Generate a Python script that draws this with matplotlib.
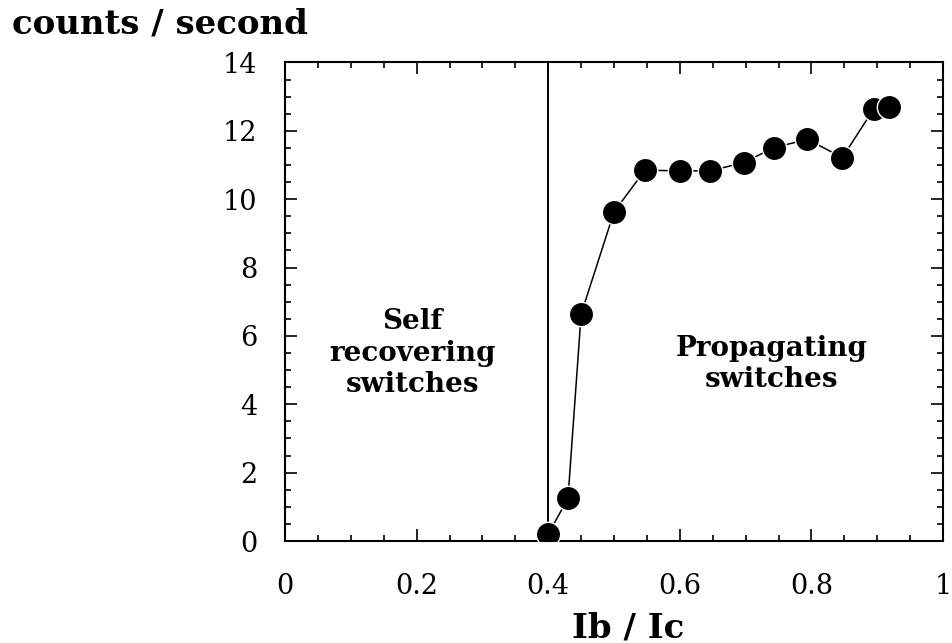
import matplotlib
matplotlib.use("Agg")
import matplotlib.pyplot as plt
from matplotlib.ticker import MultipleLocator

ib_ic = [0.40, 0.43, 0.45, 0.50, 0.547, 0.60, 0.646, 0.697, 0.743, 0.794, 0.847, 0.895, 0.918]
counts = [0.2, 1.25, 6.64, 9.63, 10.85, 10.83, 10.83, 11.07, 11.51, 11.75, 11.22, 12.65, 12.70]
boundary_x = 0.4

plt.rcParams['font.family'] = ['DejaVu Serif']

fig = plt.figure(figsize=(9.52, 6.43), dpi=100)
ax = fig.add_axes([0.2994, 0.1586, 0.6912, 0.7442])

ax.plot([boundary_x, boundary_x], [0, 14], color='black', lw=1.4, zorder=2)
ax.plot(ib_ic, counts, color='black', lw=1.1, marker='o', ms=17.5,
        markerfacecolor='black', markeredgecolor='white', markeredgewidth=1.0, zorder=3)

ax.set_xlim(0, 1)
ax.set_ylim(0, 14)
ax.xaxis.set_major_locator(MultipleLocator(0.2))
ax.xaxis.set_minor_locator(MultipleLocator(0.05))
ax.yaxis.set_major_locator(MultipleLocator(2))
ax.yaxis.set_minor_locator(MultipleLocator(0.5))
ax.set_xticks([0, 0.2, 0.4, 0.6, 0.8, 1.0])
ax.set_xticklabels(['0', '0.2', '0.4', '0.6', '0.8', '1'])

ax.tick_params(which='both', direction='in', top=True, right=True, width=1.2)
ax.tick_params(which='major', length=8.5)
ax.tick_params(which='minor', length=4)
ax.tick_params(axis='x', which='major', labelsize=19.5, pad=23)
ax.tick_params(axis='y', which='major', labelsize=19.5, pad=20)
for s in ax.spines.values():
    s.set_linewidth(1.5)

fig.text(12/952, 1 - 24/643, 'counts / second', fontsize=24.5, fontweight='bold',
         ha='left', va='center')
fig.text(628/952, 1 - 628/643, 'Ib / Ic', fontsize=24.5, fontweight='bold',
         ha='center', va='center')

ax.text(0.193, 5.5, 'Self\nrecovering\nswitches', fontsize=20, fontweight='bold',
        ha='center', va='center', linespacing=1.2)
ax.text(0.74, 5.18, 'Propagating\nswitches', fontsize=20, fontweight='bold',
        ha='center', va='center', linespacing=1.2)

fig.savefig('out.png', dpi=100)
